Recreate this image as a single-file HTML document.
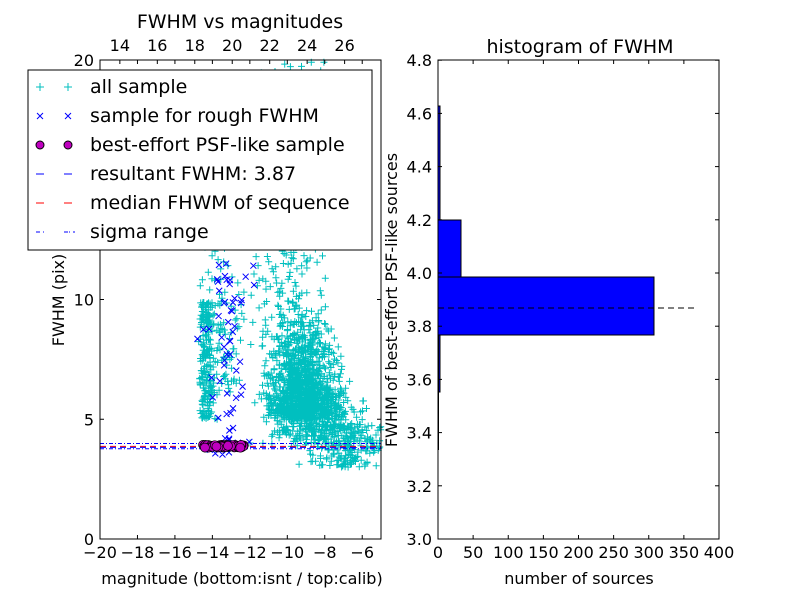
<!DOCTYPE html>
<html><head><meta charset="utf-8"><style>
body{margin:0;background:#fff;}
svg{font-family:"DejaVu Sans","Liberation Sans",sans-serif;}
</style></head><body>
<svg id="s" width="800" height="600" xmlns="http://www.w3.org/2000/svg">
<rect width="800" height="600" fill="#fff"/>
<g id="pts"></g>
<rect x="100" y="60" width="281" height="479" fill="none" stroke="#000" stroke-width="1"/>
<g id="lticks" stroke="#000"></g>
<g font-size="16" fill="#000" id="ltext"></g>
<text x="240" y="28" font-size="19" text-anchor="middle">FWHM vs magnitudes</text>
<text x="242" y="584" font-size="16" text-anchor="middle">magnitude (bottom:isnt / top:calib)</text>
<text x="64" y="300" font-size="16" text-anchor="middle" transform="rotate(-90 64 300)">FWHM (pix)</text>
<rect x="28" y="70" width="344" height="180" fill="#fff" stroke="#000"/>
<g font-size="19">
<text x="90" y="93">all sample</text>
<text x="90" y="122">sample for rough FWHM</text>
<text x="90" y="151">best-effort PSF-like sample</text>
<text x="90" y="180">resultant FWHM: 3.87</text>
<text x="90" y="209">median FHWM of sequence</text>
<text x="90" y="238">sigma range</text>
</g>
<g stroke="#00bfbf" stroke-width="1"><path d="M36 87h8M40 83v8M64 87h8M68 83v8"/></g>
<g stroke="#0000ff" stroke-width="1"><path d="M37 113l6 6M43 113l-6 6M65 113l6 6M71 113l-6 6"/></g>
<circle cx="40" cy="145" r="4" fill="#bf00bf" stroke="#000"/><circle cx="68" cy="145" r="4" fill="#bf00bf" stroke="#000"/>
<path d="M36 174h8M64 174h8" stroke="#0000ff"/>
<path d="M36 203h8M64 203h8" stroke="#ff0000"/>
<path d="M36 232h4M43 232h1M64 232h4M69 232h1M73 232h2" stroke="#0000ff"/>
<rect x="438" y="106" width="2" height="286" fill="#0000ff" stroke="#000" stroke-width="1"/>
<rect x="438" y="220" width="23" height="57" fill="#0000ff" stroke="#000"/>
<rect x="438" y="277" width="216" height="58" fill="#0000ff" stroke="#000"/>
<rect x="438" y="335" width="1" height="115" fill="#000"/>
<line x1="438" y1="308" x2="698" y2="308" stroke="#000" stroke-dasharray="6,4"/>
<rect x="438" y="60" width="281" height="479" fill="none" stroke="#000"/>
<g id="rticks" stroke="#000"></g>
<g font-size="16" id="rtext"></g>
<text x="580" y="53" font-size="19" text-anchor="middle">histogram of FWHM</text>
<text x="579" y="584" font-size="16" text-anchor="middle">number of sources</text>
<text x="397" y="300" font-size="16" text-anchor="middle" transform="rotate(-90 397 300)">FWHM of best-effort PSF-like sources</text>
</svg>
<script>
var NS="http://www.w3.org/2000/svg";
function el(p,t,a,txt){var e=document.createElementNS(NS,t);for(var k in a)e.setAttribute(k,a[k]);if(txt!==undefined)e.textContent=txt;p.appendChild(e);return e;}
var lt=document.getElementById('lticks'),ltx=document.getElementById('ltext');
function X(m){return 100+(m+20)*18.73;}function Y(f){return 539-f*23.95;}
for(var m=-20;m<=-6;m+=2){var x=X(m);el(lt,'line',{x1:x,y1:539,x2:x,y2:535});el(lt,'line',{x1:x,y1:60,x2:x,y2:64});el(ltx,'text',{x:x,y:558,'text-anchor':'middle'},'\u2212'+(-m));}
for(var c=14;c<=26;c+=2){var x=X(c-32.94);el(lt,'line',{x1:x,y1:60,x2:x,y2:64});el(ltx,'text',{x:x,y:51,'text-anchor':'middle'},c);}
[0,5,10,20].forEach(function(f){var y=Y(f);el(lt,'line',{x1:100,y1:y,x2:104,y2:y});el(lt,'line',{x1:381,y1:y,x2:377,y2:y});el(ltx,'text',{x:94,y:y+6,'text-anchor':'end'},f);});
el(lt,'line',{x1:100,y1:Y(15),x2:104,y2:Y(15)});
var rt=document.getElementById('rticks'),rtx=document.getElementById('rtext');
for(var n=0;n<=400;n+=50){var x=438+n*0.7025;el(rt,'line',{x1:x,y1:539,x2:x,y2:535});el(rt,'line',{x1:x,y1:60,x2:x,y2:64});el(rtx,'text',{x:x,y:558,'text-anchor':'middle'},n);}
for(var i=0;i<=9;i++){var v=3+i*0.2,y=539-i*53.2;el(rt,'line',{x1:438,y1:y,x2:442,y2:y});el(rt,'line',{x1:719,y1:y,x2:715,y2:y});el(rtx,'text',{x:432,y:y+6,'text-anchor':'end'},v.toFixed(1));}
var s=12345;function r(){s=(s*1103515245+12345)%2147483648;return s/2147483648;}
function g(){return (r()+r()+r()-1.5)*1.4;}
var P=document.getElementById('pts');var d='';
function plus(m,f){var x=X(m),y=Y(f);if(x<100||x>381||y<60||y>539)return;d+='M'+(x-3.5).toFixed(1)+' '+y.toFixed(1)+'h7M'+x.toFixed(1)+' '+(y-3.5).toFixed(1)+'v7';}
for(var i=0;i<1100;i++){plus(-9.2+g()*1.2,5.0+Math.abs(g())*2.6);}
for(var i=0;i<400;i++){plus(-8.6+g()*1.8,3.8+r()*2+Math.abs(g())*0.6);}
for(var i=0;i<300;i++){plus(-10+g()*1.8,8+r()*12);}
for(var i=0;i<200;i++){plus(-14.3+g()*0.3,5+r()*5);}
for(var i=0;i<150;i++){plus(-13.5+g()*0.8,6+r()*10);}
for(var i=0;i<220;i++){plus(-6.8+g()*1.4,3.0+r()*1.8);}
el(P,'path',{d:d,stroke:'#00bfbf','stroke-width':1,fill:'none'});
var dx='';
for(var i=0;i<60;i++){var m=-13.2+g()*0.8,f=3.5+r()*8;var x=X(m),y=Y(f);dx+='M'+(x-3)+' '+(y-3)+'l6 6M'+(x+3)+' '+(y-3)+'l-6 6';}
el(P,'path',{d:dx,stroke:'#0000ff','stroke-width':1,fill:'none'});
el(P,'line',{x1:100,y1:Y(3.87),x2:381,y2:Y(3.87),stroke:'#ff0000','stroke-dasharray':'6,4'});
el(P,'line',{x1:100,y1:Y(3.87)+1,x2:381,y2:Y(3.87)+1,stroke:'#0000ff','stroke-dasharray':'6,4'});
el(P,'line',{x1:100,y1:Y(3.99),x2:381,y2:Y(3.99),stroke:'#0000ff','stroke-dasharray':'4,2,1,2'});
el(P,'line',{x1:100,y1:Y(3.77),x2:381,y2:Y(3.77),stroke:'#0000ff','stroke-dasharray':'4,2,1,2'});
for(var i=0;i<80;i++){el(P,'circle',{cx:X(-14.5+r()*2.2),cy:Y(3.87)+(r()-0.5)*3,r:4.5,fill:'#bf00bf',stroke:'#000','stroke-width':0.7});}
</script>
</body></html>
